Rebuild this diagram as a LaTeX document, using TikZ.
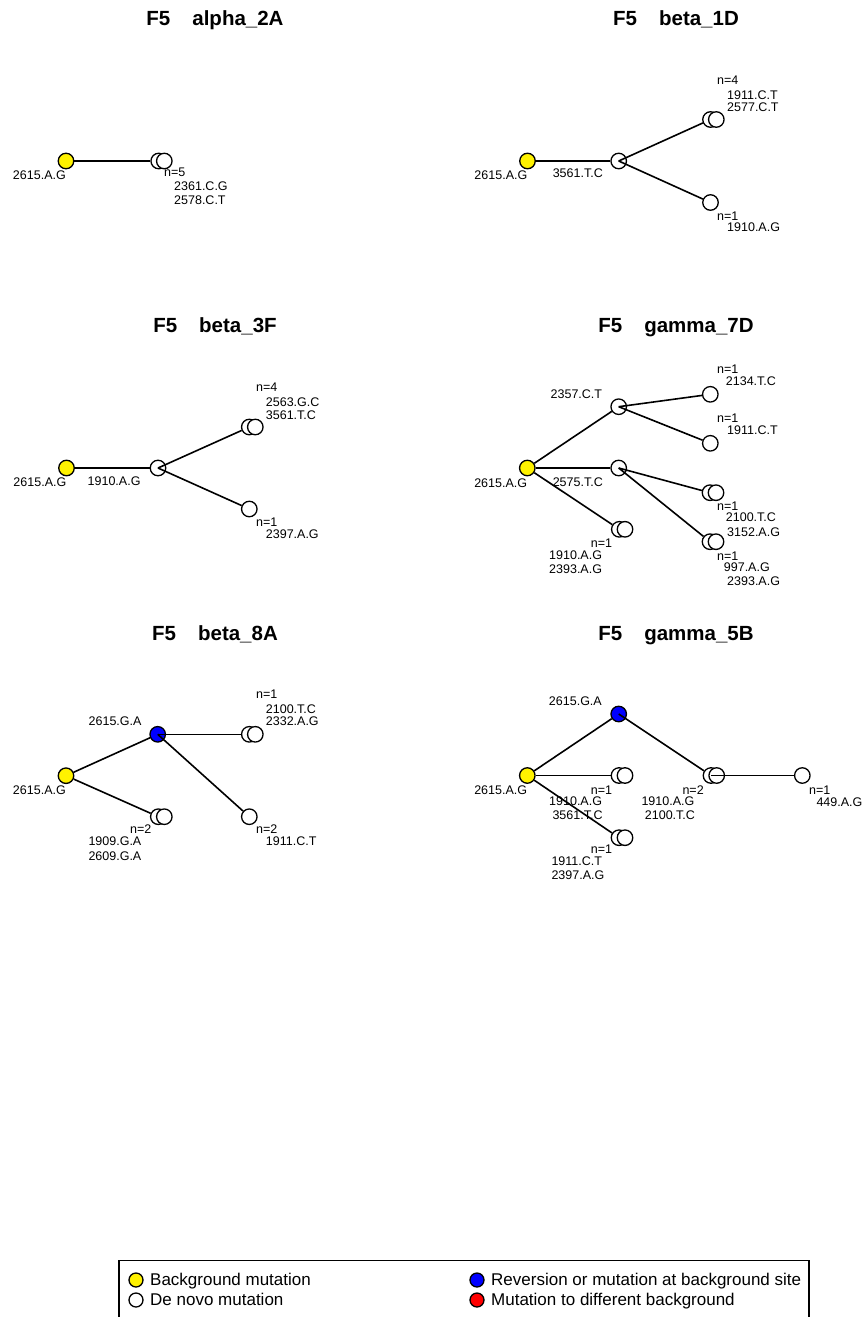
\documentclass[tikz,border=0pt]{standalone}
\usepackage{fontspec}
\setmainfont{Liberation Sans}
\begin{document}
\begin{tikzpicture}[x=1pt,y=-1pt]
\tikzset{
 circ/.style={circle, draw=black, line width=1.3pt, minimum size=15.5pt, inner sep=0pt, fill=white},
 bg/.style={circ, fill=yellow},
 rev/.style={circ, fill=blue},
 edge/.style={line width=1.6pt, black},
 lbl/.style={inner sep=0pt, font=\fontsize{12.5}{14}\selectfont, anchor=base west},
 lble/.style={lbl, anchor=base east},
 ttl/.style={inner sep=0pt, font=\fontsize{20.5}{24}\selectfont\bfseries, anchor=base},
 legc/.style={circle, draw=black, line width=1.3pt, minimum size=14pt, inner sep=0pt},
 legt/.style={inner sep=0pt, font=\fontsize{17}{20}\selectfont, anchor=base west}
}
\useasboundingbox (0,0) rectangle (866,1317);
\clip (0,0) rectangle (866,1317);

% ---------------- Panel 1: alpha_2A
\node[ttl] (ti1) at (215,25) {F5\hspace{22pt}alpha\_2A};
\node[bg] (y1) at (66,161) {};
\node[circ] (t1) at (158.7,161) {};
\node[circ] (t1b) at (164.3,161) {};
\draw[edge] (y1) -- (t1);
\node[lble] (ly1) at (66,179) {2615.A.G};
\node[lbl] (n1) at (164,176) {n=5};
\node[lbl] (m1a) at (174,190) {2361.C.G};
\node[lbl] (m1b) at (174,204.5) {2578.C.T};

% ---------------- Panel 2: beta_1D
\node[ttl] (ti2) at (676,25) {F5\hspace{22pt}beta\_1D};
\node[bg] (y2) at (527.5,161) {};
\node[circ] (i2) at (618.7,161) {};
\node[circ] (t2a) at (710.5,119.5) {};
\node[circ] (t2ab) at (716.3,119.5) {};
\node[circ] (t2b) at (710.5,202.5) {};
\draw[edge] (y2) -- (i2);
\draw[edge] (i2.center) -- (t2a);
\draw[edge] (i2.center) -- (t2b);
\node[lble] (ly2) at (527.5,179) {2615.A.G};
\node[lble] (li2) at (603,177.5) {3561.T.C};
\node[lbl] (n2a) at (717,84.5) {n=4};
\node[lbl] (m2a1) at (727,99) {1911.C.T};
\node[lbl] (m2a2) at (727,111.5) {2577.C.T};
\node[lbl] (n2b) at (717,220) {n=1};
\node[lbl] (m2b1) at (727,231.7) {1910.A.G};

% ---------------- Panel 3: beta_3F
\node[ttl] (ti3) at (215,332.3) {F5\hspace{22pt}beta\_3F};
\node[bg] (y3) at (66.5,468) {};
\node[circ] (i3) at (158,468) {};
\node[circ] (t3a) at (249.3,427) {};
\node[circ] (t3ab) at (255.3,427) {};
\node[circ] (t3b) at (249.3,509) {};
\draw[edge] (y3) -- (i3);
\draw[edge] (i3.center) -- (t3a);
\draw[edge] (i3.center) -- (t3b);
\node[lble] (ly3) at (66.5,486.5) {2615.A.G};
\node[lble] (li3) at (140.7,485.7) {1910.A.G};
\node[lbl] (n3a) at (256,391.7) {n=4};
\node[lbl] (m3a1) at (265.7,406.7) {2563.G.C};
\node[lbl] (m3a2) at (265.7,419) {3561.T.C};
\node[lbl] (n3b) at (256,526.7) {n=1};
\node[lbl] (m3b1) at (265.7,538.3) {2397.A.G};

% ---------------- Panel 4: gamma_7D
\node[ttl] (ti4) at (676,332.3) {F5\hspace{22pt}gamma\_7D};
\node[bg] (y4) at (527.3,468) {};
\node[circ] (a4) at (618.7,406.7) {};
\node[circ] (b4) at (618.7,468) {};
\node[circ] (c4) at (619.3,529.3) {};
\node[circ] (c4b) at (625,529.3) {};
\node[circ] (d4) at (710.3,394.3) {};
\node[circ] (e4) at (710.3,443.3) {};
\node[circ] (f4) at (710,492.7) {};
\node[circ] (f4b) at (716,492.7) {};
\node[circ] (g4) at (710,541.7) {};
\node[circ] (g4b) at (716,541.7) {};
\draw[edge] (y4) -- (a4);
\draw[edge] (y4) -- (b4);
\draw[edge] (y4) -- (c4);
\draw[edge] (a4.center) -- (d4);
\draw[edge] (a4.center) -- (e4);
\draw[edge] (b4.center) -- (f4);
\draw[edge] (b4.center) -- (g4);
\node[lble] (ly4) at (527.3,487) {2615.A.G};
\node[lble] (la4) at (602.3,398.3) {2357.C.T};
\node[lble] (lb4) at (603,486.7) {2575.T.C};
\node[lbl] (n4c) at (590.7,547.3) {n=1};
\node[lbl] (m4c1) at (549,559) {1910.A.G};
\node[lbl] (m4c2) at (549,573.3) {2393.A.G};
\node[lbl] (n4d) at (717,373.3) {n=1};
\node[lbl] (m4d1) at (725.7,385.7) {2134.T.C};
\node[lbl] (n4e) at (717,422.3) {n=1};
\node[lbl] (m4e1) at (727,434.3) {1911.C.T};
\node[lbl] (n4f) at (717,510) {n=1};
\node[lbl] (m4f1) at (725.7,521.7) {2100.T.C};
\node[lbl] (m4f2) at (727,536) {3152.A.G};
\node[lbl] (n4g) at (717,560) {n=1};
\node[lbl] (m4g1) at (723.7,571.7) {997.A.G};
\node[lbl] (m4g2) at (727,585.7) {2393.A.G};

% ---------------- Panel 5: beta_8A
\node[ttl] (ti5) at (215,640.7) {F5\hspace{22pt}beta\_8A};
\node[bg] (y5) at (66,775.7) {};
\node[rev] (b5) at (157.7,734.3) {};
\node[circ] (h5) at (249.3,734.3) {};
\node[circ] (h5b) at (255.3,734.3) {};
\node[circ] (i5) at (249.3,816.7) {};
\node[circ] (j5) at (158.3,816.7) {};
\node[circ] (j5b) at (164.3,816.7) {};
\draw[edge] (y5) -- (b5);
\draw[edge] (y5) -- (j5);
\draw[edge] (b5.center) -- (h5);
\draw[edge] (b5.center) -- (i5);
\node[lble] (ly5) at (66,794) {2615.A.G};
\node[lble] (lb5) at (141.7,725) {2615.G.A};
\node[lbl] (n5h) at (256,698.3) {n=1};
\node[lbl] (m5h1) at (265.7,713.3) {2100.T.C};
\node[lbl] (m5h2) at (265.7,725) {2332.A.G};
\node[lbl] (n5i) at (256,833.3) {n=2};
\node[lbl] (m5i1) at (265.7,845) {1911.C.T};
\node[lbl] (n5j) at (130,833.3) {n=2};
\node[lbl] (m5j1) at (88.3,845) {1909.G.A};
\node[lbl] (m5j2) at (88.3,860) {2609.G.A};

% ---------------- Panel 6: gamma_5B
\node[ttl] (ti6) at (676,640.7) {F5\hspace{22pt}gamma\_5B};
\node[bg] (y6) at (527.3,775.5) {};
\node[rev] (b6) at (618.7,714) {};
\node[circ] (k6) at (711,775.5) {};
\node[circ] (k6b) at (716.7,775.5) {};
\node[circ] (l6) at (802.3,775.5) {};
\node[circ] (m6) at (619,775.5) {};
\node[circ] (m6b) at (625,775.5) {};
\node[circ] (q6) at (619,837.7) {};
\node[circ] (q6b) at (625,837.7) {};
\draw[edge] (y6) -- (b6);
\draw[edge] (y6) -- (m6);
\draw[edge] (y6) -- (q6);
\draw[edge] (b6.center) -- (k6);
\draw[edge] (k6.center) -- (l6);
\node[lble] (ly6) at (527.3,794) {2615.A.G};
\node[lble] (lb6) at (602,705) {2615.G.A};
\node[lbl] (n6k) at (682.3,794) {n=2};
\node[lbl] (m6k1) at (641.3,805) {1910.A.G};
\node[lbl] (m6k2) at (644.7,819.3) {2100.T.C};
\node[lbl] (n6l) at (809,794) {n=1};
\node[lbl] (m6l1) at (816.3,806.7) {449.A.G};
\node[lbl] (n6m) at (590.7,794) {n=1};
\node[lbl] (m6m1) at (549,805) {1910.A.G};
\node[lbl] (m6m2) at (552.3,819.3) {3561.T.C};
\node[lbl] (n6q) at (590.7,853.3) {n=1};
\node[lbl] (m6q1) at (551.3,865) {1911.C.T};
\node[lbl] (m6q2) at (551.3,879) {2397.A.G};

% ---------------- Legend
\node[draw=black, line width=1.3pt, inner sep=0pt, minimum width=690pt, minimum height=90pt, anchor=north west] (legbox) at (118.3,1259.5) {};
\node[legc, fill=yellow] (lg1) at (136,1280) {};
\node[legc, fill=white] (lg2) at (136,1300) {};
\node[legc, fill=blue] (lg3) at (477,1280) {};
\node[legc, fill=red] (lg4) at (477,1300) {};
\node[legt] (lt1) at (150,1285.5) {Background mutation};
\node[legt] (lt2) at (150,1305.5) {De novo mutation};
\node[legt] (lt3) at (491,1285.5) {Reversion or mutation at background site};
\node[legt] (lt4) at (491,1305.5) {Mutation to different background};
\end{tikzpicture}
\end{document}
